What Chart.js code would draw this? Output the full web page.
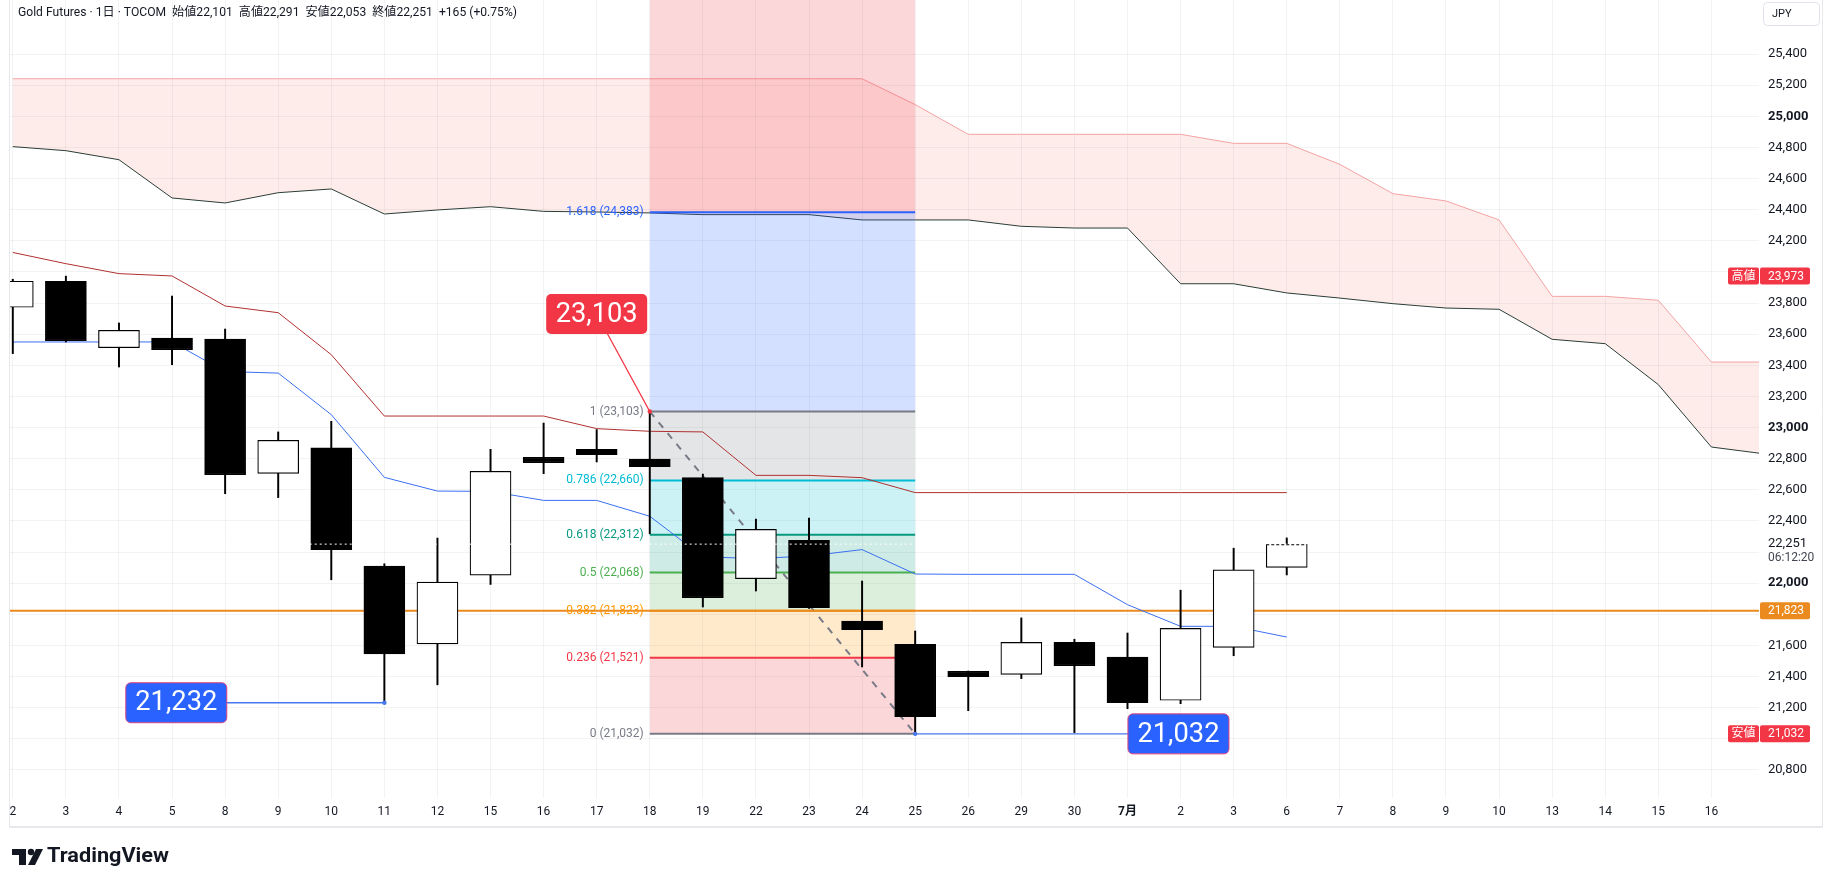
<!DOCTYPE html>
<html>
<head>
<meta charset="utf-8">
<script src="https://cdn.jsdelivr.net/npm/chart.js@4.4.1/dist/chart.umd.min.js"></script>
<style>
  html, body { margin: 0; background: #fff; }
  canvas { display: block; }
</style>
</head>
<body>
<canvas id="goldChart" width="1827" height="887"></canvas>
<script>
// day labels on the time axis
const xLabels = ['2','3','4','5','8','9','10','11','12','15','16','17','18','19','22','23','24','25','26','29','30','7月','2','3','6','7','8','9','10','13','14','15','16'];

// daily candles
const opens  = [23773,23940,23513,23575,23569,22706,22869,22110,21610,22052,22809,22860,22798,22678,22029,22276,21757,21607,21434,21414,21620,21526,21248,21588,22101];
const highs  = [23953,23973,23672,23845,23633,22972,23040,22125,22290,22860,23029,22987,23103,22701,22412,22419,22014,21693,21436,21777,21640,21680,21955,22225,22291];
const lows   = [23475,23550,23389,23404,22575,22550,22022,21232,21347,21992,22704,22779,22318,21847,21950,21838,21462,21032,21181,21387,21040,21194,21226,21534,22053];
const closes = [23940,23558,23625,23500,22697,22918,22216,21545,22007,22719,22774,22826,22749,21907,22346,21843,21701,21142,21400,21620,21470,21233,21710,22086,22251];

// ichimoku lines
const tenkan = [23550,23550,23550,23550,23360,23350,23083,22680,22592,22590,22532,22532,22430,22170,22158,22175,22216,22059,22057,22057,22057,21862,21723,21723,21654];
const kijun  = [24125,24053,23989,23974,23781,23738,23468,23074,23074,23074,23074,22993,22976,22972,22693,22693,22678,22582,22582,22582,22582,22582,22582,22582,22582];
const cloudUpper = [25241,25241,25241,25241,25241,25241,25241,25241,25241,25241,25241,25241,25241,25241,25241,25241,25241,25075,24884,24884,24884,24884,24884,24826,24826,24691,24503,24456,24334,23843,23843,23818,23421,23421];
const cloudLower = [24805,24779,24721,24475,24443,24509,24533,24372,24398,24419,24389,24385,24379,24368,24368,24368,24334,24334,24334,24293,24282,24282,23924,23924,23865,23832,23796,23768,23760,23567,23539,23276,22875,22831];

// fibonacci retracement (bar 12 high -> bar 17 low)
const fibRatios = [0, 0.236, 0.382, 0.5, 0.618, 0.786, 1, 1.618, 2.618];
const fibPrices = [21032, 21521, 21823, 22068, 22312, 22660, 23103, 24383, 26454];
const fibColors = ['#787b86','#f23645','#ff9800','#4caf50','#089981','#00bcd4','#787b86','#2962ff','#f23645'];
const fibFrom = 12, fibTo = 17;

const hLinePrice = 21823;
const yTicks = [25400,25200,25000,24800,24600,24400,24200,24000,23800,23600,23400,23200,23000,22800,22600,22400,22200,22000,21800,21600,21400,21200,21000,20800];
const hiddenTicks = [24000, 22200, 21800, 21000];

const FONT = 'Roboto, "Noto Sans CJK JP", sans-serif';
const fmt = v => v.toLocaleString('en-US');
const pts = arr => arr.map((v, i) => ({ x: i, y: v }));
const last = closes.length - 1;

function rgba(hex, a) {
  const n = parseInt(hex.slice(1), 16);
  return `rgba(${n >> 16},${(n >> 8) & 255},${n & 255},${a})`;
}

// callout labels, placed in data coordinates
const callouts = [
  { text: fmt(highs[12]), ax: 12, ay: highs[12], lx: 11.0, ly: 23730, fill: '#f23645', line: '#f23645', border: null },
  { text: fmt(lows[7]),   ax: 7,  ay: lows[7],   lx: 3.08, ly: lows[7],   fill: '#2962ff', line: '#4677ee', border: '#e0457b' },
  { text: fmt(lows[17]),  ax: 17, ay: lows[17],  lx: 21.96, ly: lows[17], fill: '#2962ff', line: '#4677ee', border: '#e0457b' }
];

const datasets = [];
datasets.push({ type: 'line', data: pts(cloudLower), borderColor: '#1f3d36', borderWidth: 1, pointRadius: 0, order: 100 });
datasets.push({ type: 'line', data: pts(cloudUpper), borderColor: '#f3a3a3', borderWidth: 1, pointRadius: 0,
  fill: 0, backgroundColor: 'rgba(244,67,54,0.1)', order: 99 });

for (let i = 0; i < fibPrices.length - 1; i++) {
  datasets.push({
    type: 'line',
    data: [{ x: fibFrom, y: fibPrices[i] }, { x: fibTo, y: fibPrices[i] }],
    borderColor: fibColors[i], borderWidth: 2, pointRadius: 0,
    fill: { target: { value: fibPrices[i + 1] } },
    backgroundColor: rgba(fibColors[i + 1], 0.2),
    order: 90 - i
  });
}

datasets.push({ type: 'line', data: [{ x: fibFrom, y: fibPrices[6] }, { x: fibTo, y: fibPrices[0] }],
  borderColor: '#787b86', borderWidth: 2, borderDash: [7, 7], pointRadius: 0, order: 70 });
datasets.push({ type: 'line', data: [{ x: -1, y: hLinePrice }, { x: 34, y: hLinePrice }],
  borderColor: '#eb8a1f', borderWidth: 2, pointRadius: 0, order: 65 });
datasets.push({ type: 'line', data: pts(kijun), borderColor: '#b0302f', borderWidth: 1, pointRadius: 0, order: 60 });
datasets.push({ type: 'line', data: pts(tenkan), borderColor: '#3a6ff0', borderWidth: 1, pointRadius: 0, order: 59 });

// wicks and bodies as floating bars
datasets.push({ type: 'bar', data: lows.map((l, i) => ({ x: i, y: [l, highs[i]] })),
  backgroundColor: '#000', barThickness: 1.3, grouped: false, order: 40 });
const bodyIndex = datasets.length;
datasets.push({ type: 'bar', data: opens.map((o, i) => ({ x: i, y: [o, closes[i]] })),
  backgroundColor: closes.map((c, i) => c >= opens[i] ? '#fff' : '#000'),
  borderColor: '#000', borderWidth: 1.2,
  borderSkipped: c => c.dataIndex === last ? 'top' : false,
  barThickness: 41, grouped: false, order: 39 });
datasets.push({ type: 'line', data: [{ x: -1, y: closes[last] }, { x: 34, y: closes[last] }],
  borderColor: '#fff', borderWidth: 1, borderDash: [2, 3], pointRadius: 0, order: 30 });

function fitText(ctx, text, x, y, w) {
  const m = ctx.measureText(text).width;
  ctx.save();
  ctx.translate(x, y);
  ctx.scale(w / m, 1);
  ctx.fillText(text, 0, 0);
  ctx.restore();
}

function roundRect(ctx, x, y, w, h, r) {
  ctx.beginPath();
  ctx.roundRect(x, y, w, h, r);
}

const overlay = {
  id: 'overlay',
  afterDatasetsDraw(chart) {
    const { ctx, scales: { x, y } } = chart;
    // live candle dashed top
    const el = chart.getDatasetMeta(bodyIndex).data[last];
    if (el) {
      const top = Math.min(el.y, el.base) + 0.6;
      ctx.save();
      ctx.strokeStyle = '#000';
      ctx.lineWidth = 1.2;
      ctx.setLineDash([3, 2]);
      ctx.beginPath();
      ctx.moveTo(el.x - el.width / 2, top);
      ctx.lineTo(el.x + el.width / 2, top);
      ctx.stroke();
      ctx.restore();
    }

    // fib level labels
    ctx.save();
    ctx.font = '12px ' + FONT;
    ctx.textAlign = 'right';
    ctx.textBaseline = 'middle';
    fibPrices.forEach((p, i) => {
      const py = y.getPixelForValue(p);
      if (py < 0) return;
      ctx.fillStyle = fibColors[i];
      ctx.fillText(`${fibRatios[i]} (${fmt(p)})`, x.getPixelForValue(fibFrom) - 6, py);
    });
    ctx.restore();

    // callouts
    callouts.forEach(c => {
      const ax = x.getPixelForValue(c.ax), ay = y.getPixelForValue(c.ay);
      const lx = x.getPixelForValue(c.lx), ly = y.getPixelForValue(c.ly);
      ctx.save();
      ctx.strokeStyle = c.line;
      ctx.lineWidth = 1.3;
      ctx.beginPath();
      ctx.moveTo(lx, ly);
      ctx.lineTo(ax, ay);
      ctx.stroke();
      ctx.fillStyle = c.line;
      ctx.beginPath();
      ctx.arc(ax, ay, 2.2, 0, Math.PI * 2);
      ctx.fill();
      const w = 101, h = 40;
      roundRect(ctx, lx - w / 2, ly - h / 2, w, h, 5);
      ctx.fillStyle = c.fill;
      ctx.fill();
      if (c.border) {
        ctx.strokeStyle = c.border;
        ctx.lineWidth = 1;
        ctx.stroke();
      }
      ctx.fillStyle = '#fff';
      ctx.font = '27px ' + FONT;
      ctx.textBaseline = 'middle';
      fitText(ctx, c.text, lx - 41, ly + 1, 82);
      ctx.restore();
    });
  },
  afterDraw(chart) {
    const { ctx, scales: { y }, chartArea } = chart;
    ctx.save();

    // frame
    ctx.strokeStyle = '#e6e8ec';
    ctx.lineWidth = 1;
    ctx.beginPath();
    ctx.moveTo(9.5, 0); ctx.lineTo(9.5, 827);
    ctx.moveTo(1822.5, 0); ctx.lineTo(1822.5, 827);
    ctx.stroke();
    ctx.lineWidth = 2;
    ctx.beginPath();
    ctx.moveTo(9, 827); ctx.lineTo(1823, 827);
    ctx.stroke();

    // price scale badges
    const ax0 = chartArea.right + 1;
    const badge = (txt, val, color, tag) => {
      const py = y.getPixelForValue(val);
      ctx.fillStyle = color;
      roundRect(ctx, ax0, py - 8.5, 50, 17, 2);
      ctx.fill();
      ctx.fillStyle = '#fff';
      ctx.font = '12px ' + FONT;
      ctx.textAlign = 'left';
      ctx.textBaseline = 'middle';
      ctx.fillText(txt, ax0 + 8, py + 0.5);
      if (tag) {
        ctx.fillStyle = color;
        roundRect(ctx, ax0 - 32, py - 8.5, 31, 17, 2);
        ctx.fill();
        ctx.fillStyle = '#fff';
        ctx.textAlign = 'center';
        ctx.fillText(tag, ax0 - 16.5, py + 0.5);
      }
    };
    badge(fmt(Math.max(...highs)), Math.max(...highs), '#f23645', '高値');
    badge(fmt(Math.min(...lows)), Math.min(...lows), '#f23645', '安値');
    badge(fmt(hLinePrice), hLinePrice, '#eb8a1f', null);

    const lp = y.getPixelForValue(closes[last]);
    ctx.fillStyle = '#131722';
    ctx.textAlign = 'left';
    ctx.textBaseline = 'middle';
    ctx.font = '13px ' + FONT;
    ctx.fillText(fmt(closes[last]), 1768, lp);
    ctx.fillStyle = '#434651';
    ctx.font = '12px ' + FONT;
    ctx.fillText('06:12:20', 1768, lp + 14);

    // currency button
    ctx.strokeStyle = '#e0e3eb';
    ctx.lineWidth = 1;
    roundRect(ctx, 1763.5, 2.5, 56, 23, 4);
    ctx.stroke();
    ctx.fillStyle = '#131722';
    ctx.font = '11px ' + FONT;
    ctx.fillText('JPY', 1772, 14);

    // header
    const chg = closes[last] - closes[last - 1];
    const pct = (chg / closes[last - 1] * 100).toFixed(2);
    const header = `Gold Futures · 1日 · TOCOM  始値${fmt(opens[last])}  高値${fmt(highs[last])}  安値${fmt(lows[last])}  終値${fmt(closes[last])}  +${chg} (+${pct}%)`;
    ctx.font = '12px ' + FONT;
    ctx.fillStyle = '#131722';
    fitText(ctx, header, 18, 13, 499);

    // TradingView mark
    ctx.fillStyle = '#131722';
    ctx.fillRect(12, 849, 14, 6);
    ctx.fillRect(19, 849, 7, 16);
    ctx.beginPath();
    ctx.arc(31, 852, 3.2, 0, Math.PI * 2);
    ctx.fill();
    ctx.beginPath();
    ctx.moveTo(36, 849); ctx.lineTo(43, 849); ctx.lineTo(35, 865); ctx.lineTo(28, 865);
    ctx.closePath();
    ctx.fill();
    ctx.font = 'bold 21px ' + FONT;
    ctx.textBaseline = 'middle';
    fitText(ctx, 'TradingView', 47, 857, 122);
    ctx.restore();
  }
};

new Chart(document.getElementById('goldChart').getContext('2d'), {
  type: 'bar',
  data: { datasets: datasets },
  options: {
    responsive: false,
    animation: false,
    events: [],
    layout: { padding: { left: 9, right: 5, top: 0, bottom: 60 } },
    plugins: { legend: { display: false }, tooltip: { enabled: false } },
    scales: {
      x: {
        type: 'linear',
        min: -0.0716,
        max: 32.897,
        offset: false,
        afterBuildTicks: s => { s.ticks = xLabels.map((_, i) => ({ value: i })); },
        afterFit: s => { s.height = 29; s.paddingLeft = 0; s.paddingRight = 0; },
        grid: { color: 'rgba(42,46,57,0.06)', drawTicks: false, offset: false },
        border: { display: false },
        ticks: {
          callback: v => xLabels[v] ?? '',
          color: '#131722',
          padding: 7,
          maxRotation: 0,
          autoSkip: false,
          font: c => ({ family: FONT, size: 12, weight: c.tick && xLabels[c.tick.value] === '7月' ? 'bold' : 'normal' })
        }
      },
      y: {
        type: 'linear',
        position: 'right',
        min: 20620,
        max: 25747,
        afterBuildTicks: s => { s.ticks = yTicks.map(v => ({ value: v })); },
        afterFit: s => { s.width = 63; s.paddingTop = 0; s.paddingBottom = 0; },
        grid: { color: 'rgba(42,46,57,0.06)', drawTicks: false },
        border: { display: false },
        ticks: {
          callback: v => hiddenTicks.includes(v) ? '' : fmt(v),
          color: '#131722',
          padding: 9,
          font: c => ({ family: FONT, size: 13, weight: c.tick && c.tick.value % 1000 === 0 ? 'bold' : 'normal' })
        }
      }
    }
  },
  plugins: [overlay]
});
</script>
</body>
</html>
